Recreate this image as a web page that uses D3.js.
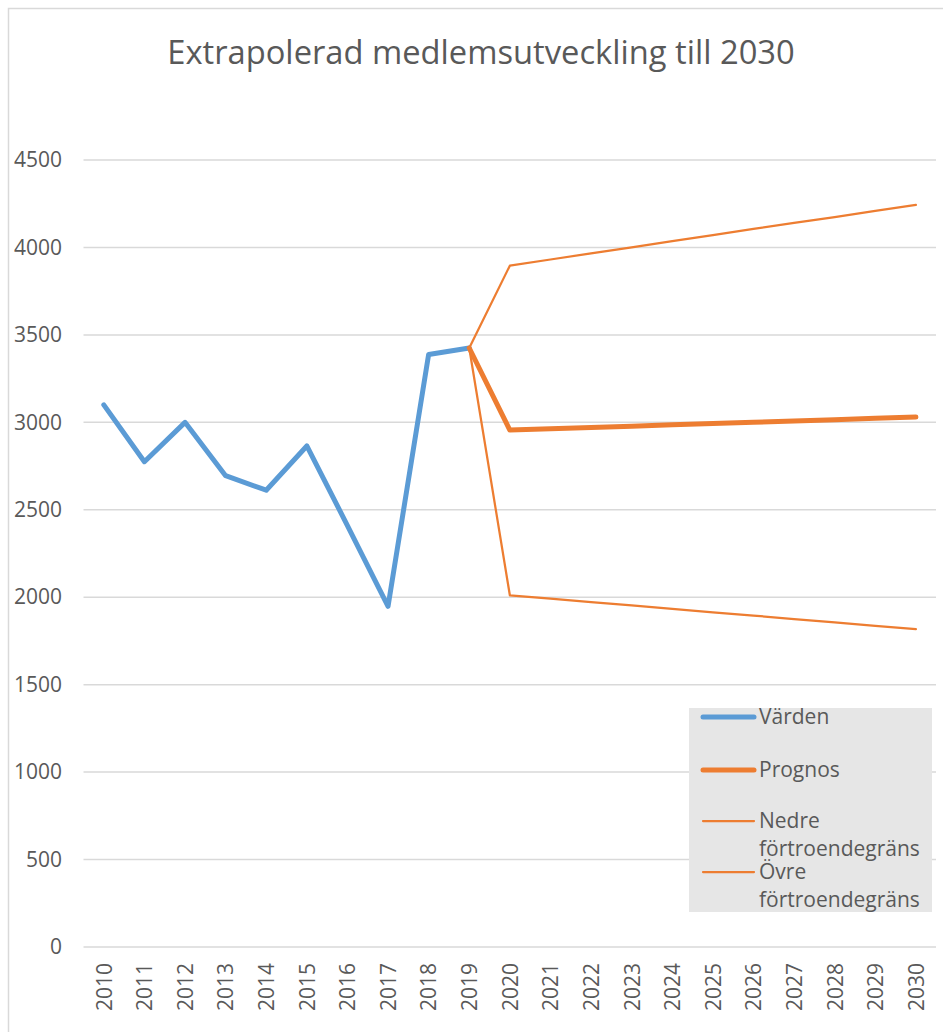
<!DOCTYPE html>
<html>
<head>
<meta charset="utf-8">
<script src="https://cdn.jsdelivr.net/npm/d3@7"></script>
<style>
  body { margin: 0; background: #fff; }
  svg text { font-family: "Open Sans", sans-serif; fill: #595959; }
</style>
</head>
<body>
<div id="vis"></div>
<script>
var years = ['2010','2011','2012','2013','2014','2015','2016','2017','2018','2019','2020',
             '2021','2022','2023','2024','2025','2026','2027','2028','2029','2030'];
var yTicks = [0, 500, 1000, 1500, 2000, 2500, 3000, 3500, 4000, 4500];

// observed members 2010-2019
var vardenYears = years.slice(0, 10);
var varden = [3100, 2775, 3000, 2695, 2612, 2865, 2410, 1948, 3388, 3425];

// forecast 2019-2030
var prognosYears = years.slice(9);
var prognos = [3425, 2956, 2963, 2971, 2978, 2986, 2993, 3000, 3008, 3015, 3023, 3030];
var nedre   = [3425, 2011, 1992, 1972, 1953, 1933, 1914, 1895, 1875, 1856, 1836, 1817];
var ovre    = [3425, 3896, 3931, 3966, 4001, 4036, 4071, 4106, 4140, 4174, 4209, 4243];

var legendNames = ['Värden', 'Prognos', 'Nedre förtroendegräns', 'Övre förtroendegräns'];

var width = 943, height = 1032;
var blue = '#5b9bd5', orange = '#ed7d31';

var svg = d3.select('#vis').append('svg')
    .attr('width', width)
    .attr('height', height);

// outer chart border
svg.append('rect')
    .attr('x', 8.5).attr('y', 8.5)
    .attr('width', 945).attr('height', 1040)
    .attr('fill', 'none')
    .attr('stroke', '#d9d9d9')
    .attr('stroke-width', 1.5);

svg.append('text')
    .attr('x', 481).attr('y', 64)
    .attr('text-anchor', 'middle')
    .style('font-size', '32.7px')
    .text('Extrapolerad medlemsutveckling till 2030');

var x = d3.scalePoint()
    .domain(years)
    .range([103.8, 915.9]);

var y = d3.scaleLinear()
    .domain([0, 4500])
    .range([947, 160]);

// gridlines
svg.append('g').selectAll('line')
    .data(yTicks)
    .enter().append('line')
    .attr('x1', 83.5).attr('x2', 936)
    .attr('y1', function (d) { return y(d); })
    .attr('y2', function (d) { return y(d); })
    .attr('stroke', '#d9d9d9')
    .attr('stroke-width', 1.5);

var yAxis = svg.append('g')
    .attr('transform', 'translate(62,0)')
    .call(d3.axisLeft(y).tickValues(yTicks).tickFormat(d3.format('d')).tickSize(0).tickPadding(0));
yAxis.select('.domain').remove();
yAxis.selectAll('text').style('font-size', '21px').attr('fill', '#595959');

var xAxis = svg.append('g')
    .attr('transform', 'translate(0,947)')
    .call(d3.axisBottom(x).tickSize(0));
xAxis.select('.domain').remove();
xAxis.selectAll('text')
    .style('font-size', '21px')
    .attr('fill', '#595959')
    .attr('text-anchor', 'end')
    .attr('transform', 'rotate(-90)')
    .attr('x', -16)
    .attr('y', 0)
    .attr('dy', '0.35em');

var line = d3.line()
    .x(function (d) { return x(d[0]); })
    .y(function (d) { return y(d[1]); });

function drawSeries(cats, vals, color, w) {
    svg.append('path')
        .datum(d3.zip(cats, vals))
        .attr('d', line)
        .attr('fill', 'none')
        .attr('stroke', color)
        .attr('stroke-width', w)
        .attr('stroke-linejoin', 'round')
        .attr('stroke-linecap', 'round');
}

drawSeries(vardenYears, varden, blue, 5);
drawSeries(prognosYears, prognos, orange, 5);
drawSeries(prognosYears, nedre, orange, 2.25);
drawSeries(prognosYears, ovre, orange, 2.25);

// legend
var legend = svg.append('g');
legend.append('rect')
    .attr('x', 689).attr('y', 708)
    .attr('width', 243).attr('height', 204)
    .attr('fill', '#e6e6e6');

var legendItems = [
    {name: legendNames[0], color: blue, w: 5, ly: 717, lines: ['Värden']},
    {name: legendNames[1], color: orange, w: 5, ly: 770, lines: ['Prognos']},
    {name: legendNames[2], color: orange, w: 2.25, ly: 821, lines: ['Nedre', 'förtroendegräns']},
    {name: legendNames[3], color: orange, w: 2.25, ly: 872, lines: ['Övre', 'förtroendegräns']}
];

legendItems.forEach(function (d) {
    legend.append('line')
        .attr('x1', 703).attr('x2', 754)
        .attr('y1', d.ly).attr('y2', d.ly)
        .attr('stroke', d.color)
        .attr('stroke-width', d.w)
        .attr('stroke-linecap', 'round');
    var t = legend.append('text')
        .attr('x', 759)
        .attr('y', d.ly + 7)
        .style('font-size', '21px');
    d.lines.forEach(function (s, i) {
        t.append('tspan')
            .attr('x', 759)
            .attr('dy', i === 0 ? 0 : 28)
            .text(s);
    });
});
</script>
</body>
</html>
